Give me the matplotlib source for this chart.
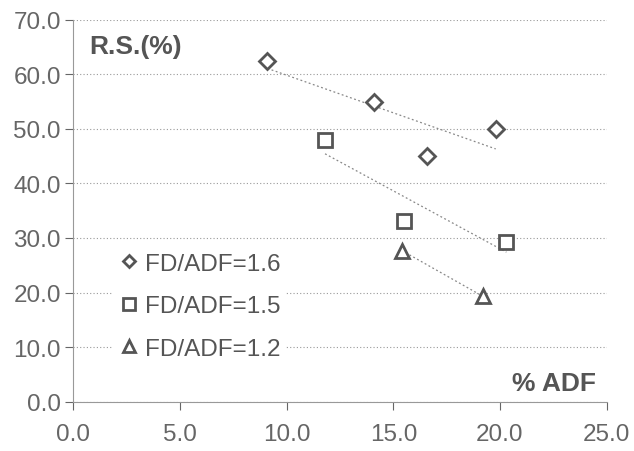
import numpy as np
import matplotlib
matplotlib.use("Agg")
import matplotlib.pyplot as plt

plt.rcParams['font.family'] = ['Liberation Sans', 'DejaVu Sans']

# % ADF vs R.S.(%) for three FD/ADF ratios
adf_16 = [9.1, 14.1, 16.6, 19.8]
rs_16 = [62.4, 54.9, 45.0, 50.0]
adf_15 = [11.8, 15.5, 20.3]
rs_15 = [47.9, 33.2, 29.3]
adf_12 = [15.4, 19.2]
rs_12 = [27.7, 19.3]
labels = ["FD/ADF=1.6", "FD/ADF=1.5", "FD/ADF=1.2"]

xticks = [0, 5, 10, 15, 20, 25]
yticks = [0, 10, 20, 30, 40, 50, 60, 70]

grey = "#555555"
fig = plt.figure(figsize=(6.34, 4.52), dpi=100)
ax = fig.add_axes([0.1156, 0.1091, 0.8413, 0.8451])

series = [(adf_16, rs_16, "D", 8), (adf_15, rs_15, "s", 10), (adf_12, rs_12, "^", 10)]
for (xs, ys, m, ms), lab in zip(series, labels):
    xs = np.array(xs); ys = np.array(ys)
    # linear trendline, dotted
    k, b = np.polyfit(xs, ys, 1)
    xl = np.array([xs.min(), xs.max()])
    ax.plot(xl, k * xl + b, linestyle=(0, (1.5, 2)), color="#888888", lw=0.9, zorder=2)
    ax.plot(xs, ys, linestyle="none", marker=m, ms=ms, mfc="white", mec=grey,
            mew=2, label=lab, zorder=3)

ax.set_xlim(0, 25)
ax.set_ylim(0, 70)
ax.set_xticks(xticks)
ax.set_yticks(yticks)
ax.set_xticklabels([f"{v:.1f}" for v in xticks])
ax.set_yticklabels([f"{v:.1f}" for v in yticks])
ax.tick_params(labelsize=17.5, colors="#666666", length=6, width=0.8)
ax.tick_params(axis="x", pad=9)
ax.tick_params(axis="y", pad=3)
ax.yaxis.grid(True, linestyle=(0, (1, 2)), color="#999999", lw=0.8)
ax.set_axisbelow(True)
for s in ["top", "right"]:
    ax.spines[s].set_visible(False)
for s in ["left", "bottom"]:
    ax.spines[s].set_color("#999999")

ax.text(0.03, 0.93, "R.S.(%)", transform=ax.transAxes, fontsize=19,
        fontweight="bold", color=grey, va="center", ha="left")
ax.text(0.98, 0.05, "% ADF", transform=ax.transAxes, fontsize=19,
        fontweight="bold", color=grey, va="center", ha="right")

leg = ax.legend(loc="upper left", bbox_to_anchor=(0.05, 0.435), fontsize=17.5,
                frameon=True, facecolor="white", edgecolor="none", framealpha=1,
                handletextpad=0.15, labelspacing=0.85, borderpad=0.2,
                handlelength=1.0, markerscale=0.8)
for t in leg.get_texts():
    t.set_color(grey)

fig.savefig("out.png", dpi=100)
